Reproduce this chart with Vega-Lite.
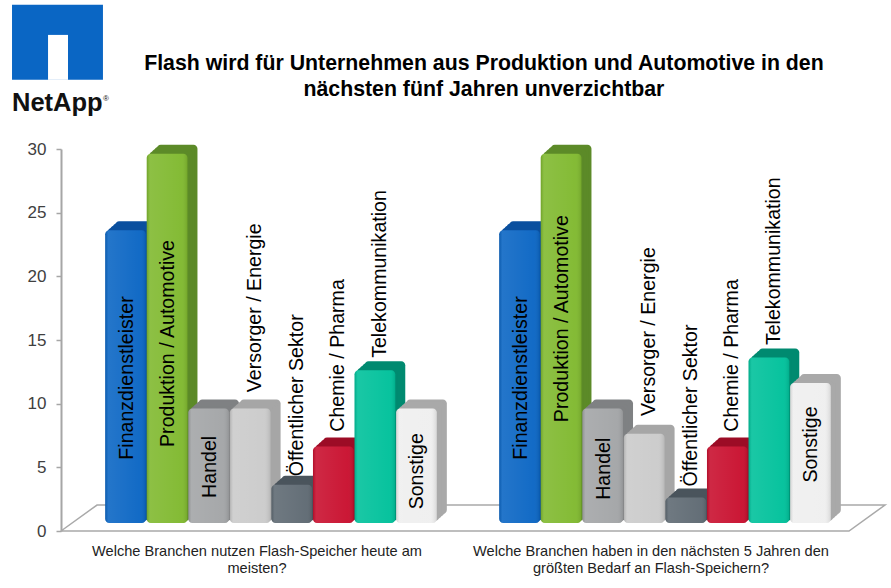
{
"$schema":"https://vega.github.io/schema/vega-lite/v6.json",
"width":826,"height":382,
"autosize":"none",
"padding":{"left":61,"top":149,"right":4,"bottom":57},
"background":"white",
"config":{"view":{"stroke":null},"font":"Liberation Sans"},
"datasets":{
"bars":[
{"frage":"Welche Branchen nutzen Flash-Speicher heute am|meisten?","branche":"Finanzdienstleister","wert":23,"beschriftung":5.6},
{"frage":"Welche Branchen nutzen Flash-Speicher heute am|meisten?","branche":"Produktion / Automotive","wert":29,"beschriftung":6.6},
{"frage":"Welche Branchen nutzen Flash-Speicher heute am|meisten?","branche":"Handel","wert":9,"beschriftung":2.6},
{"frage":"Welche Branchen nutzen Flash-Speicher heute am|meisten?","branche":"Versorger / Energie","wert":9,"beschriftung":10.9},
{"frage":"Welche Branchen nutzen Flash-Speicher heute am|meisten?","branche":"Öffentlicher  Sektor","wert":3,"beschriftung":4.3},
{"frage":"Welche Branchen nutzen Flash-Speicher heute am|meisten?","branche":"Chemie / Pharma","wert":6,"beschriftung":7.8},
{"frage":"Welche Branchen nutzen Flash-Speicher heute am|meisten?","branche":"Telekommunikation","wert":12,"beschriftung":13.6},
{"frage":"Welche Branchen nutzen Flash-Speicher heute am|meisten?","branche":"Sonstige","wert":9,"beschriftung":1.7},
{"frage":"Welche Branchen haben in den nächsten 5 Jahren den|größten Bedarf an Flash-Speichern?","branche":"Finanzdienstleister","wert":23,"beschriftung":5.6},
{"frage":"Welche Branchen haben in den nächsten 5 Jahren den|größten Bedarf an Flash-Speichern?","branche":"Produktion / Automotive","wert":29,"beschriftung":8.55},
{"frage":"Welche Branchen haben in den nächsten 5 Jahren den|größten Bedarf an Flash-Speichern?","branche":"Handel","wert":9,"beschriftung":2.45},
{"frage":"Welche Branchen haben in den nächsten 5 Jahren den|größten Bedarf an Flash-Speichern?","branche":"Versorger / Energie","wert":7,"beschriftung":9.03},
{"frage":"Welche Branchen haben in den nächsten 5 Jahren den|größten Bedarf an Flash-Speichern?","branche":"Öffentlicher  Sektor","wert":2,"beschriftung":3.5},
{"frage":"Welche Branchen haben in den nächsten 5 Jahren den|größten Bedarf an Flash-Speichern?","branche":"Chemie / Pharma","wert":6,"beschriftung":7.8},
{"frage":"Welche Branchen haben in den nächsten 5 Jahren den|größten Bedarf an Flash-Speichern?","branche":"Telekommunikation","wert":13,"beschriftung":14.6},
{"frage":"Welche Branchen haben in den nächsten 5 Jahren den|größten Bedarf an Flash-Speichern?","branche":"Sonstige","wert":11,"beschriftung":3.8}
]},
"resolve":{"scale":{"x":"independent"},"axis":{"x":"independent"}},
"layer":[
{"data":{"values":[{"a":0,"b":0,"o":1},{"a":0.0436,"b":2.04,"o":2},{"a":0.9976,"b":2.04,"o":3},{"a":0.954,"b":0,"o":4},{"a":0,"b":0,"o":5}]},
 "mark":{"type":"line","stroke":"#a9a9a9","strokeWidth":1.5,"clip":false},
 "encoding":{"x":{"field":"a","type":"quantitative","scale":{"domain":[0,1],"nice":false,"zero":false},"axis":null},
  "y":{"field":"b","type":"quantitative","scale":{"domain":[0,30],"nice":false},"axis":{"title":null,"values":[0,5,10,15,20,25,30],"grid":false,"domainColor":"#a6a6a6","domainWidth":2,"tickColor":"#a6a6a6","tickSize":5,"tickWidth":1.5,"labelFontSize":17,"labelColor":"#404040","labelPadding":10,"labelFont":"Liberation Sans"}},
  "order":{"field":"o"}}},
{"data":{"values":[{"a":-0.0593,"a2":0.0508,"b":35.43,"b2":41.32}]},
 "mark":{"type":"rect","color":"#0a66c4"},
 "encoding":{"x":{"field":"a","type":"quantitative","scale":{"domain":[0,1],"nice":false,"zero":false},"axis":null},"x2":{"field":"a2"},"y":{"field":"b","type":"quantitative","title":null},"y2":{"field":"b2"}}},
{"data":{"values":[{"a":-0.0157,"a2":0.00847,"b":35.43,"b2":38.96}]},
 "mark":{"type":"rect","color":"#ffffff"},
 "encoding":{"x":{"field":"a","type":"quantitative","scale":{"domain":[0,1],"nice":false,"zero":false},"axis":null},"x2":{"field":"a2"},"y":{"field":"b","type":"quantitative","title":null},"y2":{"field":"b2"}}},
{"data":{"values":[{"a":-0.0593,"b":33,"t":"NetApp"}]},
 "mark":{"type":"text","align":"left","baseline":"alphabetic","font":"Liberation Sans","fontWeight":"bold","fontSize":25.5,"color":"#111111"},
 "encoding":{"x":{"field":"a","type":"quantitative","scale":{"domain":[0,1],"nice":false,"zero":false},"axis":null},"y":{"field":"b","type":"quantitative","title":null},"text":{"field":"t"}}},
{"data":{"values":[{"a":0.0508,"b":33.8,"t":"®"}]},
 "mark":{"type":"text","align":"left","baseline":"alphabetic","font":"Liberation Sans","fontSize":8,"color":"#111111"},
 "encoding":{"x":{"field":"a","type":"quantitative","scale":{"domain":[0,1],"nice":false,"zero":false},"axis":null},"y":{"field":"b","type":"quantitative","title":null},"text":{"field":"t"}}},
{"data":{"values":[{"a":0.512,"b":36.2,"t":"Flash wird für Unternehmen aus Produktion und Automotive in den"},{"a":0.512,"b":34.15,"t":"nächsten fünf Jahren unverzichtbar"}]},
 "mark":{"type":"text","align":"center","baseline":"alphabetic","font":"Liberation Sans","fontWeight":"bold","fontSize":21.3,"color":"#000000"},
 "encoding":{"x":{"field":"a","type":"quantitative","scale":{"domain":[0,1],"nice":false,"zero":false},"axis":null},"y":{"field":"b","type":"quantitative","title":null},"text":{"field":"t"}}},
{"data":{"name":"bars"},
 "mark":{"type":"bar","cornerRadius":4,"yOffset":-17,"y2Offset":-17},
 "encoding":{"x":{"field":"frage","type":"nominal","sort":null,"scale":{"range":[23,811],"paddingInner":0,"paddingOuter":0},"axis":null},
  "xOffset":{"field":"branche","type":"nominal","sort":null,"scale":{"range":[0,394],"paddingInner":0.02,"paddingOuter":0.75}},
  "y":{"field":"wert","type":"quantitative","title":null},"y2":{"datum":0},"fill":{"field":"branche","type":"nominal","legend":null,"sort":null,"scale":{"domain":["Finanzdienstleister","Produktion / Automotive","Handel","Versorger / Energie","Öffentlicher  Sektor","Chemie / Pharma","Telekommunikation","Sonstige"],"range":["#0a4f9e","#5c8a28","#7f8183","#a6a6a6","#4a545c","#9c0c26","#008a70","#a9a9a9"]}}}},
{"data":{"name":"bars"},
 "mark":{"type":"bar","cornerRadius":4,"yOffset":-14.75,"y2Offset":-14.75},
 "encoding":{"x":{"field":"frage","type":"nominal","sort":null,"scale":{"range":[20.5,808.5],"paddingInner":0,"paddingOuter":0},"axis":null},
  "xOffset":{"field":"branche","type":"nominal","sort":null,"scale":{"range":[0,394],"paddingInner":0.02,"paddingOuter":0.75}},
  "y":{"field":"wert","type":"quantitative","title":null},"y2":{"datum":0},"fill":{"field":"branche","type":"nominal","legend":null,"sort":null}}},
{"data":{"name":"bars"},
 "mark":{"type":"bar","cornerRadius":4,"yOffset":-12.5,"y2Offset":-12.5},
 "encoding":{"x":{"field":"frage","type":"nominal","sort":null,"scale":{"range":[18,806],"paddingInner":0,"paddingOuter":0},"axis":null},
  "xOffset":{"field":"branche","type":"nominal","sort":null,"scale":{"range":[0,394],"paddingInner":0.02,"paddingOuter":0.75}},
  "y":{"field":"wert","type":"quantitative","title":null},"y2":{"datum":0},"fill":{"field":"branche","type":"nominal","legend":null,"sort":null}}},
{"data":{"name":"bars"},
 "mark":{"type":"bar","cornerRadius":4,"yOffset":-10.25,"y2Offset":-10.25},
 "encoding":{"x":{"field":"frage","type":"nominal","sort":null,"scale":{"range":[15.5,803.5],"paddingInner":0,"paddingOuter":0},"axis":null},
  "xOffset":{"field":"branche","type":"nominal","sort":null,"scale":{"range":[0,394],"paddingInner":0.02,"paddingOuter":0.75}},
  "y":{"field":"wert","type":"quantitative","title":null},"y2":{"datum":0},"fill":{"field":"branche","type":"nominal","legend":null,"sort":null}}},
{"data":{"name":"bars"},
 "encoding":{
  "x":{"field":"frage","type":"nominal","sort":null,"scale":{"range":[13,801],"paddingInner":0,"paddingOuter":0},"axis":{"title":null,"domain":false,"ticks":false,"labelAngle":0,"labelFontSize":14.6,"labelColor":"#222222","labelPadding":12,"labelLineHeight":17,"labelOffset":-14,"labelLimit":500,"labelBaseline":"top","labelExpr":"split(datum.label,'|')","labelFont":"Liberation Sans"}},
  "xOffset":{"field":"branche","type":"nominal","sort":null,"scale":{"range":[0,394],"paddingInner":0.02,"paddingOuter":0.75}}
 },
 "layer":[
 {"mark":{"type":"bar","cornerRadius":4,"yOffset":-8,"y2Offset":-8},"encoding":{"y":{"field":"wert","type":"quantitative","title":null},"y2":{"datum":0},"color":{"field":"branche","type":"nominal","legend":null,"sort":null,"scale":{"domain":["Finanzdienstleister","Produktion / Automotive","Handel","Versorger / Energie","Öffentlicher  Sektor","Chemie / Pharma","Telekommunikation","Sonstige"],"range":["#0b66c4","#80b92f","#a3a5a7","#cbcbcb","#5f6a73","#c9102f","#00c19b","#efefef"]}}}},
 {"mark":{"type":"bar","cornerRadius":4,"yOffset":-8,"y2Offset":-8,"color":{"gradient":"linear","x1":0,"x2":1,"y1":0,"y2":0,"stops":[{"offset":0,"color":"rgba(0,0,0,0.12)"},{"offset":0.08,"color":"rgba(255,255,255,0.1)"},{"offset":0.85,"color":"rgba(255,255,255,0.03)"},{"offset":1,"color":"rgba(0,0,0,0.1)"}]}},"encoding":{"y":{"field":"wert","type":"quantitative","title":null},"y2":{"datum":0}}}
 ]},
{"data":{"name":"bars"},
 "transform":[{"filter":{"field":"branche","oneOf":["Finanzdienstleister","Produktion / Automotive","Handel","Sonstige"]}}],
 "mark":{"type":"text","angle":270,"align":"left","baseline":"middle","fontSize":19.6,"font":"Liberation Sans","color":"#000000"},
 "encoding":{"x":{"field":"frage","type":"nominal","sort":null,"scale":{"range":[14,802],"paddingInner":0,"paddingOuter":0},"axis":null},
  "xOffset":{"field":"branche","type":"nominal","sort":["Finanzdienstleister","Produktion / Automotive","Handel","Versorger / Energie","Öffentlicher  Sektor","Chemie / Pharma","Telekommunikation","Sonstige"],"scale":{"range":[0,394],"paddingInner":0.02,"paddingOuter":0.75,"domain":["Finanzdienstleister","Produktion / Automotive","Handel","Versorger / Energie","Öffentlicher  Sektor","Chemie / Pharma","Telekommunikation","Sonstige"]}},
  "y":{"field":"beschriftung","type":"quantitative","title":null},"text":{"field":"branche"}}},
{"data":{"name":"bars"},
 "transform":[{"filter":{"field":"branche","oneOf":["Versorger / Energie","Öffentlicher  Sektor","Chemie / Pharma","Telekommunikation"]}}],
 "mark":{"type":"text","angle":270,"align":"left","baseline":"middle","fontSize":19.6,"font":"Liberation Sans","color":"#000000"},
 "encoding":{"x":{"field":"frage","type":"nominal","sort":null,"scale":{"range":[18,806],"paddingInner":0,"paddingOuter":0},"axis":null},
  "xOffset":{"field":"branche","type":"nominal","sort":["Finanzdienstleister","Produktion / Automotive","Handel","Versorger / Energie","Öffentlicher  Sektor","Chemie / Pharma","Telekommunikation","Sonstige"],"scale":{"range":[0,394],"paddingInner":0.02,"paddingOuter":0.75,"domain":["Finanzdienstleister","Produktion / Automotive","Handel","Versorger / Energie","Öffentlicher  Sektor","Chemie / Pharma","Telekommunikation","Sonstige"]}},
  "y":{"field":"beschriftung","type":"quantitative","title":null},"text":{"field":"branche"}}}
]
}
